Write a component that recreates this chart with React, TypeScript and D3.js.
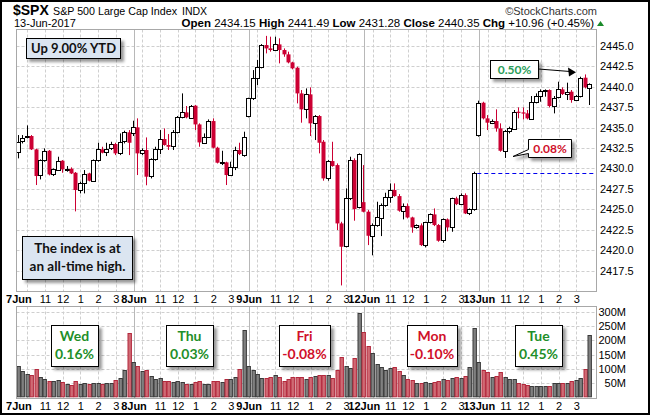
import React from 'react';
import * as d3 from 'd3';

// ---------- DATA ----------
const DAY_LABELS = ['7Jun', '8Jun', '9Jun', '12Jun', '13Jun'];
const HOUR_LABELS = ['11', '12', '1', '2', '3'];
const HOUR_LABEL_BARS = [6, 10, 14, 18, 22];
const HOUR_GRID_BARS = [2, 6, 10, 14, 18, 22];
const BARS_PER_DAY = 26;

const OPEN = [
  2432.03, 2433.26, 2433.88, 2433.96, 2432.33, 2429.19, 2431.02, 2432.16, 2429.27, 2429.88, 2430.94, 2429.88, 2429.96,
  2429.47, 2427.36, 2428.17, 2429.39, 2428.50, 2431.02, 2432.33, 2431.92, 2432.45, 2432.98, 2431.92, 2433.26, 2434.41,
  2434.27, 2435.02, 2431.84, 2432.25, 2428.99, 2431.10, 2432.33, 2433.59, 2432.86, 2432.65, 2434.41, 2436.24, 2436.85,
  2436.24, 2437.67, 2435.38, 2433.18, 2433.88, 2435.79, 2432.53, 2430.70, 2430.74, 2429.19, 2430.21, 2432.25, 2431.55,
  2436.39, 2438.56, 2441.01, 2442.35, 2445.08, 2444.67, 2444.47, 2445.16, 2444.47, 2443.94, 2442.96, 2442.31, 2439.17,
  2437.22, 2439.05, 2435.51, 2436.40, 2433.26, 2428.78, 2430.90, 2430.41, 2423.28, 2420.43, 2426.34, 2431.02, 2425.32,
  2425.88, 2424.71, 2421.77, 2423.08, 2423.89, 2425.52, 2426.46, 2427.36, 2426.62, 2424.83, 2425.40, 2424.01, 2422.79,
  2423.04, 2420.63, 2423.40, 2424.38, 2423.08, 2421.16, 2423.77, 2422.79, 2426.34, 2425.64, 2426.74, 2424.50, 2424.99,
  2434.15, 2438.03, 2436.12, 2435.59, 2435.79, 2434.89, 2432.16, 2434.57, 2434.89, 2436.93, 2436.85, 2436.73, 2436.12,
  2438.15, 2438.85, 2439.50, 2439.58, 2437.63, 2438.64, 2439.66, 2439.09, 2439.38, 2438.36, 2438.85, 2441.09, 2439.91,
];
const HIGH = [
  2434.08, 2434.08, 2435.26, 2434.08, 2432.41, 2431.10, 2432.45, 2432.25, 2430.00, 2431.43, 2431.02, 2430.29, 2430.13,
  2429.56, 2428.37, 2429.80, 2429.47, 2431.10, 2433.14, 2432.65, 2433.14, 2433.26, 2433.14, 2434.28, 2434.61, 2434.69,
  2435.83, 2436.12, 2432.45, 2433.79, 2431.23, 2432.65, 2434.69, 2434.89, 2434.20, 2434.69, 2436.40, 2439.17, 2437.63,
  2437.75, 2437.75, 2435.51, 2434.28, 2435.99, 2436.12, 2432.65, 2432.16, 2430.82, 2430.82, 2432.65, 2433.14, 2434.49,
  2438.64, 2442.02, 2443.25, 2445.20, 2446.20, 2446.10, 2446.10, 2445.90, 2444.67, 2444.27, 2443.04, 2442.43, 2439.58,
  2439.78, 2439.91, 2436.52, 2436.52, 2433.47, 2431.02, 2433.26, 2430.61, 2423.48, 2427.56, 2431.43, 2431.23, 2431.84,
  2430.41, 2424.91, 2423.28, 2425.93, 2425.72, 2427.03, 2428.17, 2428.17, 2426.87, 2425.72, 2425.72, 2424.10, 2423.16,
  2423.28, 2423.48, 2424.50, 2425.11, 2423.20, 2423.89, 2423.89, 2426.42, 2426.54, 2426.95, 2426.95, 2425.11, 2429.60,
  2438.28, 2438.15, 2436.52, 2435.99, 2437.22, 2435.51, 2434.69, 2435.10, 2437.14, 2437.46, 2437.46, 2437.14, 2438.85,
  2439.17, 2439.66, 2439.66, 2439.66, 2438.85, 2440.60, 2439.91, 2440.48, 2439.58, 2438.97, 2441.21, 2441.49, 2440.40,
];
const LOW = [
  2431.23, 2433.06, 2433.67, 2432.25, 2427.97, 2428.66, 2430.82, 2429.15, 2429.07, 2429.80, 2429.47, 2429.60, 2429.31,
  2424.75, 2426.95, 2426.95, 2428.42, 2428.37, 2430.82, 2431.84, 2431.51, 2432.25, 2431.63, 2431.63, 2433.06, 2431.63,
  2433.96, 2429.19, 2431.63, 2427.94, 2428.78, 2430.94, 2431.76, 2432.78, 2432.25, 2432.25, 2434.28, 2436.12, 2436.12,
  2436.12, 2434.69, 2432.65, 2432.98, 2433.79, 2432.45, 2430.61, 2430.41, 2427.97, 2429.07, 2429.80, 2431.63, 2431.43,
  2436.24, 2438.36, 2440.19, 2442.23, 2444.06, 2444.27, 2444.39, 2442.84, 2443.65, 2442.84, 2442.11, 2437.95, 2435.59,
  2436.12, 2433.96, 2433.47, 2431.84, 2428.50, 2428.50, 2430.21, 2422.47, 2415.70, 2420.35, 2426.13, 2423.61, 2425.11,
  2424.63, 2420.63, 2419.38, 2422.87, 2421.73, 2425.32, 2425.81, 2426.54, 2424.71, 2423.77, 2423.89, 2422.14, 2422.63,
  2420.51, 2420.35, 2423.28, 2422.95, 2421.04, 2420.92, 2422.30, 2422.26, 2425.52, 2425.52, 2424.42, 2424.30, 2424.83,
  2433.88, 2435.99, 2434.69, 2435.42, 2434.49, 2432.04, 2431.28, 2434.28, 2434.77, 2436.12, 2435.99, 2435.99, 2435.99,
  2437.95, 2438.15, 2438.77, 2437.46, 2436.73, 2438.56, 2438.97, 2438.36, 2438.03, 2438.28, 2438.68, 2439.78, 2437.75,
];
const CLOSE = [
  2433.26, 2433.67, 2433.96, 2432.33, 2429.07, 2431.02, 2432.16, 2429.27, 2429.88, 2430.94, 2429.88, 2429.96, 2429.39,
  2427.36, 2428.17, 2429.31, 2428.50, 2431.02, 2432.33, 2431.92, 2432.33, 2432.98, 2431.84, 2433.26, 2434.41, 2433.14,
  2435.02, 2431.84, 2432.25, 2428.99, 2431.10, 2432.33, 2433.59, 2432.86, 2432.65, 2434.41, 2436.24, 2436.85, 2436.24,
  2437.67, 2435.38, 2433.18, 2433.88, 2435.79, 2432.53, 2430.70, 2430.74, 2429.19, 2430.21, 2432.25, 2431.76, 2433.79,
  2438.56, 2441.01, 2442.35, 2445.08, 2444.67, 2444.47, 2445.16, 2444.47, 2443.94, 2442.96, 2442.23, 2439.17, 2437.22,
  2439.05, 2435.51, 2436.40, 2433.14, 2428.78, 2430.90, 2430.29, 2423.28, 2420.43, 2426.34, 2431.02, 2425.03, 2431.77,
  2424.71, 2421.77, 2423.08, 2424.01, 2425.52, 2426.46, 2427.36, 2426.62, 2424.83, 2425.40, 2424.01, 2422.79, 2423.04,
  2420.63, 2423.40, 2424.38, 2423.08, 2421.16, 2423.77, 2422.79, 2426.34, 2425.64, 2426.74, 2424.50, 2424.99, 2429.39,
  2438.03, 2436.12, 2435.59, 2435.79, 2434.89, 2432.16, 2434.57, 2434.89, 2436.93, 2436.85, 2436.73, 2436.12, 2438.15,
  2438.85, 2439.50, 2439.58, 2437.63, 2438.64, 2439.66, 2439.09, 2439.38, 2438.36, 2438.85, 2441.09, 2439.91, 2440.35,
];
// volume in millions
const VOLUME = [
  109, 93, 80, 76, 97, 71, 62, 56, 56, 60, 54, 44, 42, 56, 44, 48, 45, 48, 48, 45, 48, 48, 60, 66, 95, 225,
  125, 109, 93, 95, 74, 63, 65, 57, 57, 54, 56, 54, 44, 44, 51, 56, 45, 45, 56, 56, 51, 63, 63, 71, 97, 237,
  109, 95, 80, 68, 68, 69, 77, 71, 57, 62, 71, 69, 69, 62, 69, 74, 77, 77, 77, 66, 95, 140, 109, 101, 136, 296,
  229, 180, 154, 116, 105, 96, 102, 105, 93, 78, 63, 60, 48, 48, 52, 50, 53, 55, 62, 60, 68, 72, 66, 75, 105, 243,
  122, 95, 87, 69, 75, 87, 71, 63, 62, 50, 44, 41, 38, 38, 38, 38, 40, 50, 48, 48, 48, 55, 60, 66, 97, 219,
];
const PRICE_TICKS = [2417.5, 2420, 2422.5, 2425, 2427.5, 2430, 2432.5, 2435, 2437.5, 2440, 2442.5, 2445];
const VOLUME_TICKS = [50, 100, 150, 200, 250, 300];
const PREV_CLOSE = 2429.39;
const DAY_NAMES = ['Wed', 'Thu', 'Fri', 'Mon', 'Tue'];
const DAY_CHANGES = [0.16, 0.03, -0.08, -0.10, 0.45];

// ---------- LAYOUT ----------
const W = 650, H = 415;
const P = { left: 16.5, right: 596.5, top: 29.5, bottom: 291.5 };
const V = { top: 306.5, bottom: 398.5 };
const DAY_BOX = [
  { x: 51, w: 47 }, { x: 166, w: 47 }, { x: 279, w: 51 }, { x: 407, w: 50 }, { x: 515, w: 47 },
];
const GREEN = '#1f8f2a';
const RED_TXT = '#d0102a';
const CANDLE_RED = '#cc0033';

export default function App() {
  const n = CLOSE.length;
  const x = d3.scaleBand<number>().domain(d3.range(n)).range([16.7, 16.7 + n * 4.427]);
  const cx = (i: number) => (x(i) as number) + x.bandwidth() / 2;
  const px = (i: number) => Math.round(cx(i));
  const y = d3.scaleLinear().domain([2417.5, 2445]).range([270.7, 45.7]);
  const yv = d3.scaleLinear().domain([0, 300]).range([396.8, 312.3]);
  const snap = (v: number) => Math.round(v) + 0.5;

  const days = d3.range(DAY_LABELS.length);
  const font = 'Liberation Sans, Arial, sans-serif';
  const boxFont = 'Lato, Calibri, sans-serif';

  const vGrid = (top: number, bottom: number) => (
    <g>
      {days.map((d) => (
        <g key={d}>
          {HOUR_GRID_BARS.map((b) => (
            <line key={b} x1={snap(cx(d * BARS_PER_DAY + b) - 0.5)} x2={snap(cx(d * BARS_PER_DAY + b) - 0.5)} y1={top} y2={bottom}
              stroke="#cfcfcf" strokeDasharray="3,2" />
          ))}
          {d > 0 && (
            <line x1={snap(cx(d * BARS_PER_DAY) - 0.5)} x2={snap(cx(d * BARS_PER_DAY) - 0.5)} y1={top} y2={bottom} stroke="#b8b8b8" />
          )}
        </g>
      ))}
    </g>
  );

  const axisLabels = (baseline: number) => (
    <g fontFamily={font} fontSize={11} fill="#000">
      {days.map((d) => (
        <g key={d}>
          <text x={cx(d * BARS_PER_DAY)} y={baseline} textAnchor="middle" fontWeight="bold">{DAY_LABELS[d]}</text>
          {HOUR_LABELS.map((h, k) => (
            <text key={k} x={cx(d * BARS_PER_DAY + HOUR_LABEL_BARS[k])} y={baseline} textAnchor="middle">{h}</text>
          ))}
        </g>
      ))}
    </g>
  );

  const lastX = cx(n - 1);

  return (
    <svg width={W} height={H} style={{ display: 'block', position: 'absolute', left: 0, top: 0 }}>
      <defs>
        <filter id="shadow" x="-20%" y="-20%" width="150%" height="170%">
          <feDropShadow dx="3" dy="3" stdDeviation="1.6" floodColor="#000" floodOpacity="0.4" />
        </filter>
      </defs>
      <rect x={0} y={0} width={W} height={H} fill="#fff" />

      {/* header */}
      <g fontFamily={font} fill="#000">
        <text x={13} y={15} fontSize={14} fontWeight="bold">$SPX</text>
        <text x={53} y={15} fontSize={11} textLength={124} lengthAdjust="spacingAndGlyphs">S&amp;P 500 Large Cap Index</text>
        <text x={182} y={15} fontSize={10.5}>INDX</text>
        <text x={597} y={15} fontSize={11} textAnchor="end" fill="#333">©StockCharts.com</text>
        <text x={14} y={27} fontSize={11}>13-Jun-2017</text>
        <text x={594} y={27} fontSize={11.5} textAnchor="end">
          <tspan fontWeight="bold">Open</tspan> 2434.15 <tspan fontWeight="bold">High</tspan> 2441.49{' '}
          <tspan fontWeight="bold">Low</tspan> 2431.28 <tspan fontWeight="bold">Close</tspan> 2440.35{' '}
          <tspan fontWeight="bold">Chg</tspan> +10.96 (+0.45%)
        </text>
        <path d="M597,26 L604,26 L600.5,21 Z" fill="#1a8a2a" />
      </g>

      {/* price panel */}
      <rect x={P.left} y={P.top} width={P.right - P.left} height={P.bottom - P.top} fill="#fff" />
      {PRICE_TICKS.map((t) => (
        <line key={t} x1={P.left} x2={P.right} y1={snap(y(t))} y2={snap(y(t))} stroke="#cfcfcf" strokeDasharray="3,2" />
      ))}
      {vGrid(P.top, P.bottom)}
      <line x1={cx(104) - 2} x2={P.right} y1={snap(y(PREV_CLOSE))} y2={snap(y(PREV_CLOSE))} stroke="#0000ee" strokeDasharray="4,3" />

      {/* candles */}
      {CLOSE.map((c, i) => {
        const o = OPEN[i];
        const up = c >= o;
        const col = up ? '#000' : CANDLE_RED;
        const p = px(i);
        const top = y(Math.max(o, c));
        const bot = y(Math.min(o, c));
        return (
          <g key={i}>
            <line x1={p - 0.5} x2={p - 0.5} y1={y(HIGH[i])} y2={y(LOW[i])} stroke={col} strokeWidth={1} />
            {up ? (
              <rect x={p - 2.5} y={Math.round(top) + 0.5} width={4} height={Math.max(Math.round(bot - top), 1)} fill="#fff" stroke="#000" strokeWidth={1} />
            ) : (
              <rect x={p - 2.5} y={top} width={4} height={Math.max(bot - top, 1.2)} fill={CANDLE_RED} />
            )}
          </g>
        );
      })}
      <rect x={P.left} y={P.top} width={P.right - P.left} height={P.bottom - P.top} fill="none" stroke="#a8a8a8" />

      {/* price axis */}
      <g fontFamily={font} fontSize={11} fill="#000">
        {PRICE_TICKS.map((t) => (
          <text key={t} x={600} y={y(t) + 4}>{t.toFixed(1)}</text>
        ))}
      </g>

      {axisLabels(302.5)}

      {/* volume panel */}
      <rect x={P.left} y={V.top} width={P.right - P.left} height={V.bottom - V.top} fill="#fff" />
      {VOLUME_TICKS.map((t) => (
        <line key={t} x1={P.left} x2={P.right} y1={snap(yv(t))} y2={snap(yv(t))} stroke="#cfcfcf" strokeDasharray="3,2" />
      ))}
      {vGrid(V.top, V.bottom)}
      {VOLUME.map((v, i) => {
        const up = CLOSE[i] >= OPEN[i];
        const p = px(i);
        return (
          <rect key={i} x={p - 2} y={Math.round(yv(v)) + 0.5} width={3.4} height={Math.max(yv(0) - Math.round(yv(v)) - 0.5, 1)}
            fill={up ? '#808080' : '#cf6a74'} stroke={up ? '#3a3a3a' : '#b3283c'} strokeWidth={1} />
        );
      })}
      <rect x={P.left} y={V.top} width={P.right - P.left} height={V.bottom - V.top} fill="none" stroke="#a8a8a8" />
      <g fontFamily={font} fontSize={11} fill="#000">
        {VOLUME_TICKS.map((t) => (
          <text key={t} x={626} y={yv(t) + 4} textAnchor="end">{t}M</text>
        ))}
      </g>
      {axisLabels(409.5)}

      {/* day change boxes */}
      {DAY_NAMES.map((name, d) => {
        const b = DAY_BOX[d];
        const chg = DAY_CHANGES[d];
        const col = chg >= 0 ? GREEN : RED_TXT;
        const mid = b.x + b.w / 2;
        return (
          <g key={name}>
            <rect x={b.x + 0.5} y={325.5} width={b.w} height={41} fill="#fff" stroke="#000" filter="url(#shadow)" />
            <text x={mid} y={341} textAnchor="middle" fontFamily={boxFont} fontWeight="bold" fontSize={14} fill={col}>{name}</text>
            <text x={mid} y={359} textAnchor="middle" fontFamily={boxFont} fontWeight="bold" fontSize={14} fill={col}>{chg.toFixed(2)}%</text>
          </g>
        );
      })}

      {/* notes */}
      <rect x={26.5} y={38.5} width={94} height={20} fill="#dbe5f1" stroke="#000" filter="url(#shadow)" />
      <text x={73.5} y={53} textAnchor="middle" fontFamily={boxFont} fontWeight="bold" fontSize={13} fill="#111">Up 9.00% YTD</text>

      <rect x={22.5} y={236.5} width={110} height={43} fill="#dbe5f1" stroke="#000" filter="url(#shadow)" />
      <text x={77.5} y={252.5} textAnchor="middle" fontFamily={boxFont} fontWeight="bold" fontSize={13.5} fill="#111">The index is at</text>
      <text x={77.5} y={270.5} textAnchor="middle" fontFamily={boxFont} fontWeight="bold" fontSize={13.5} fill="#111">an all-time high.</text>

      {/* 0.50% with arrow */}
      <rect x={490.5} y={60.5} width={48} height={18} fill="#fff" stroke="#000" filter="url(#shadow)" />
      <text x={514.5} y={74} textAnchor="middle" fontFamily={boxFont} fontWeight="bold" fontSize={12} fill="#2a9d5a">0.50%</text>
      <line x1={538.5} y1={69} x2={570} y2={71.5} stroke="#000" strokeWidth={1} />
      <path d={`M${lastX - 14},72.2 L568,67.5 L569,76.5 Z`} fill="#000" />

      {/* 0.08% callout */}
      <path d="M528.5,139.5 H571.5 V157.5 H528.5 V153.5 L513,156.5 L528.5,149.5 Z" fill="#fff" stroke="#000" filter="url(#shadow)" />
      <text x={550} y={153} textAnchor="middle" fontFamily={boxFont} fontWeight="bold" fontSize={12} fill={RED_TXT}>0.08%</text>

      {/* outer frame */}
      <rect x={1} y={1} width={W - 2} height={H - 2} fill="none" stroke="#000" strokeWidth={2} />
    </svg>
  );
}
